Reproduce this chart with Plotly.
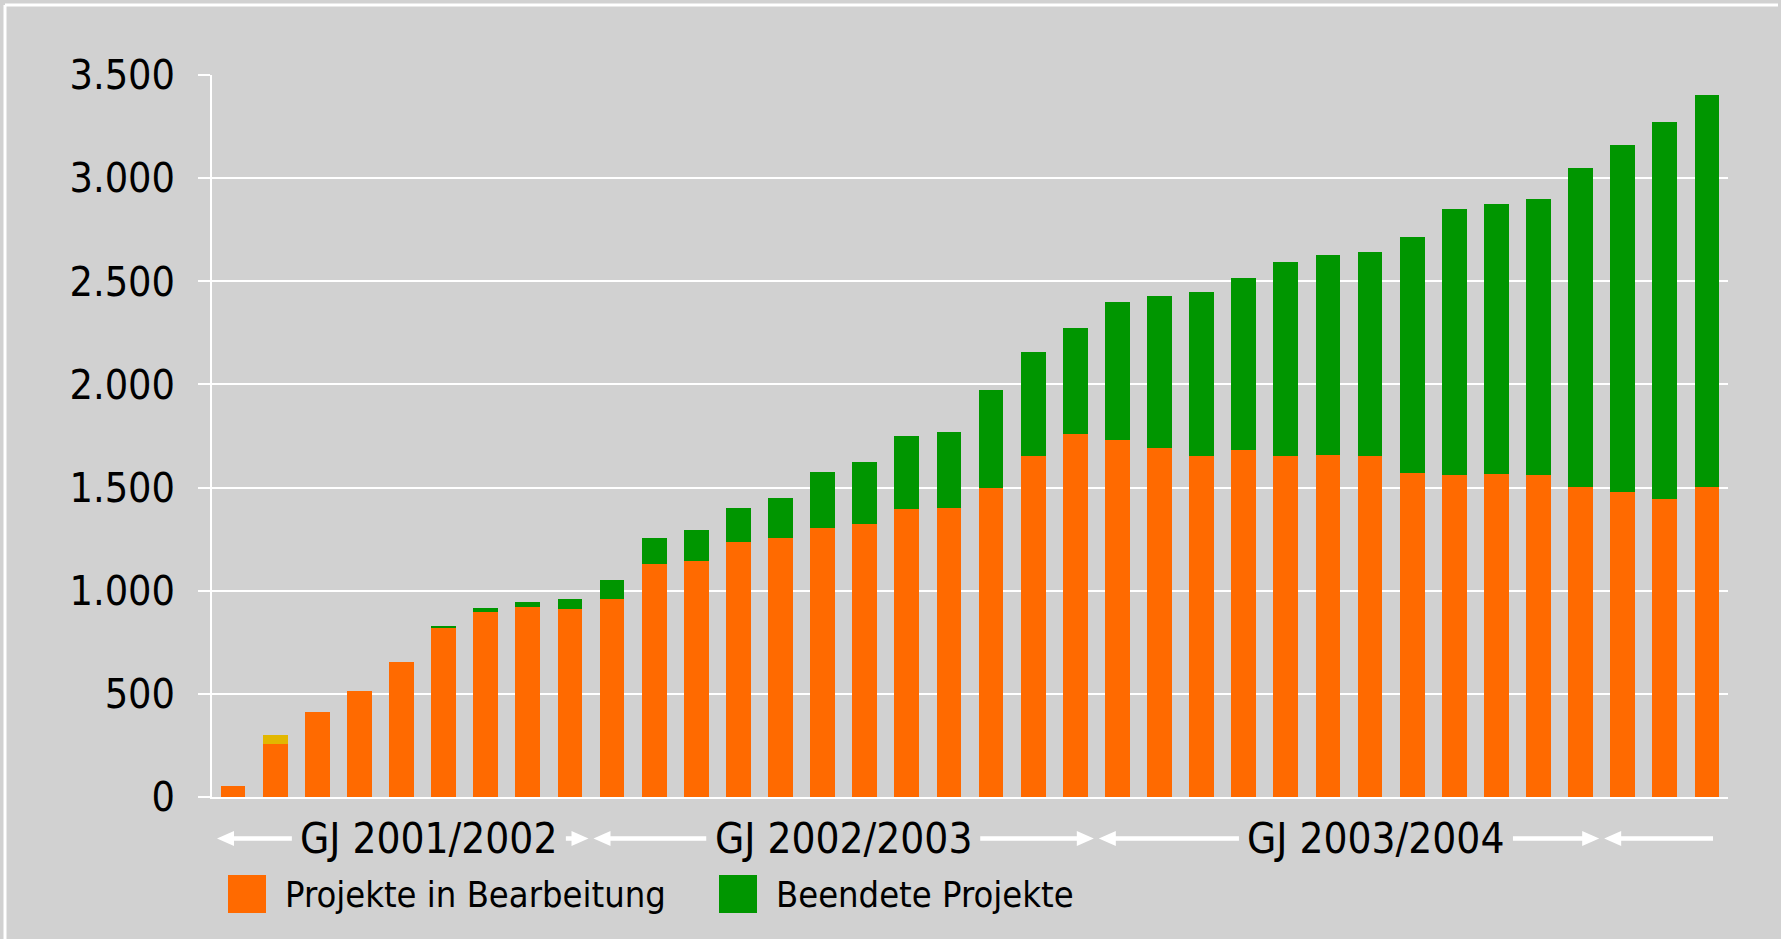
import plotly.graph_objects as go

# ---------------- data ----------------
in_progress = [55, 258, 413, 515, 656, 822, 898, 922, 913, 961, 1131, 1145,
               1238, 1257, 1305, 1325, 1398, 1402, 1499, 1654, 1761, 1732, 1693, 1654,
               1684, 1654, 1659, 1654, 1572, 1562, 1567, 1562, 1504, 1477, 1444, 1505]
other = [0, 44, 0, 0, 0, 0, 0, 0, 0, 0, 0, 0,
         0, 0, 0, 0, 0, 0, 0, 0, 0, 0, 0, 0,
         0, 0, 0, 0, 0, 0, 0, 0, 0, 0, 0, 0]
completed = [0, 0, 0, 0, 0, 8, 20, 25, 46, 92, 126, 151,
             164, 194, 272, 300, 353, 369, 475, 505, 514, 669, 737, 795,
             833, 941, 970, 989, 1144, 1290, 1309, 1338, 1544, 1685, 1829, 1899]
series_names = ["Projekte in Bearbeitung", "Beendete Projekte"]
fiscal_years = ["GJ 2001/2002", "GJ 2002/2003", "GJ 2003/2004", ""]
months_per_year = [9, 12, 12, 3]
y_tick_values = [0, 500, 1000, 1500, 2000, 2500, 3000, 3500]
y_tick_labels = ["0", "500", "1.000", "1.500", "2.000", "2.500", "3.000", "3.500"]

# ---------------- style ----------------
BG = "#d1d1d1"
ORANGE = "#ff6a00"
GREEN = "#009600"
YELLOW = "#e2b700"
FONT = "DejaVu Sans Condensed, sans-serif"

W, H = 1781, 939
ML, MR, MT, MB = 212, 53, 75, 142
PW, PH = W - ML - MR, H - MT - MB

months = list(range(len(in_progress)))
x_min, x_max = -0.5, len(months) - 0.5
unit_px = PW / (x_max - x_min)

def px_to_units(px):
    return px / unit_px

def px_to_paper_y(py):
    return (H - MB - py) / PH

def px_to_paper_x(px):
    return (px - ML) / PW

fig = go.Figure()
fig.add_trace(go.Bar(x=months, y=in_progress, name=series_names[0],
                     marker=dict(color=ORANGE, line=dict(width=0)), width=0.59,
                     showlegend=False))
fig.add_trace(go.Bar(x=months, y=other, name="",
                     marker=dict(color=YELLOW, line=dict(width=0)), width=0.59,
                     showlegend=False))
fig.add_trace(go.Bar(x=months, y=completed, name=series_names[1],
                     marker=dict(color=GREEN, line=dict(width=0)), width=0.59,
                     showlegend=False))

shapes = []
annotations = []

# frame (top and left white lines)
shapes.append(dict(type="line", xref="paper", yref="paper",
                   x0=px_to_paper_x(5), x1=px_to_paper_x(1778),
                   y0=px_to_paper_y(5), y1=px_to_paper_y(5),
                   line=dict(color="white", width=3), layer="below"))
shapes.append(dict(type="line", xref="paper", yref="paper",
                   x0=px_to_paper_x(5), x1=px_to_paper_x(5),
                   y0=px_to_paper_y(5), y1=px_to_paper_y(H + 5),
                   line=dict(color="white", width=3), layer="below"))

# fiscal year arrows
arrow_y = px_to_paper_y(838.5)
head_len = px_to_units(17)
head_half = 7.5 / PH
tip_gap = px_to_units(2.5)
label_half_gap = px_to_units(137)
label_centers = [4.65, 14.49, 27.14, None]

def seg(xa, xb):
    shapes.append(dict(type="line", xref="x", yref="paper", x0=xa, x1=xb,
                       y0=arrow_y, y1=arrow_y, line=dict(color="white", width=4.5)))

def head(tip, direction):
    base = tip + direction * head_len
    path = (f"M {tip},{arrow_y} L {base},{arrow_y + head_half} "
            f"L {base},{arrow_y - head_half} Z")
    shapes.append(dict(type="path", xref="x", yref="paper", path=path,
                       fillcolor="white", line=dict(width=0)))

start = x_min
for i, (label, n) in enumerate(zip(fiscal_years, months_per_year)):
    end = start + n
    left_tip = start + tip_gap if i > 0 else start + px_to_units(5)
    last = i == len(fiscal_years) - 1
    right_end = end - px_to_units(15) if last else end - tip_gap
    head(left_tip, +1)
    if not last:
        head(right_end, -1)
    if label_centers[i] is not None:
        c = label_centers[i]
        seg(left_tip + head_len * 0.9, c - label_half_gap)
        seg(c + label_half_gap, right_end - head_len * 0.9)
        annotations.append(dict(x=c, y=arrow_y, xref="x", yref="paper",
                                text=label, showarrow=False,
                                xanchor="center", yanchor="middle",
                                font=dict(family=FONT, size=42, color="black")))
    else:
        seg(left_tip + head_len * 0.9, right_end)
    start = end

# legend (manual)
legend_items = [(series_names[0], ORANGE, 228, 266, 283),
                (series_names[1], GREEN, 719, 757, 774)]
for name, col, x0, x1, tx in legend_items:
    shapes.append(dict(type="rect", xref="paper", yref="paper",
                       x0=px_to_paper_x(x0), x1=px_to_paper_x(x1),
                       y0=px_to_paper_y(913), y1=px_to_paper_y(875),
                       fillcolor=col, line=dict(width=0)))
    annotations.append(dict(x=px_to_paper_x(tx), y=px_to_paper_y(894), xref="paper", yref="paper",
                            text=name, showarrow=False, xanchor="left", yanchor="middle",
                            font=dict(family=FONT, size=36, color="black")))

fig.update_layout(
    width=W, height=H,
    margin=dict(l=ML, r=MR, t=MT, b=MB, pad=0),
    paper_bgcolor=BG, plot_bgcolor=BG,
    barmode="stack", bargap=0.41,
    shapes=shapes, annotations=annotations,
    showlegend=False,
    font=dict(family=FONT, color="black"),
    xaxis=dict(range=[x_min, x_max], showticklabels=False, showgrid=False,
               zeroline=False, showline=True, linecolor="white", linewidth=2,
               ticks=""),
    yaxis=dict(range=[0, 3500], tickvals=y_tick_values, ticktext=y_tick_labels,
               showgrid=True, gridcolor="white", gridwidth=1.5,
               zeroline=False, showline=True, linecolor="white", linewidth=1.5,
               ticks="outside", ticklen=12, tickcolor="white", tickwidth=1.5,
               ticklabelstandoff=15,
               tickfont=dict(family=FONT, size=41, color="black")),
)

fig.write_html("out.html", config={"displayModeBar": False},
               post_script="document.body.style.margin='0';document.body.style.overflow='hidden';")
